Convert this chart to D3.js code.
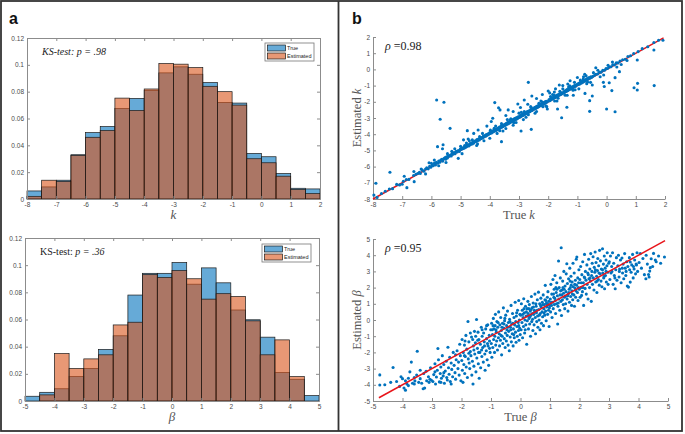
<!DOCTYPE html>
<html><head><meta charset="utf-8">
<script src="https://cdn.jsdelivr.net/npm/d3@7"></script>
<style>body{margin:0;background:#fff}svg{display:block}</style>
</head><body><svg id="c" width="685" height="434"></svg>
<script>
// ---------- DATA ----------
const kEdges = [-8,-7.5,-7,-6.5,-6,-5.5,-5,-4.5,-4,-3.5,-3,-2.5,-2,-1.5,-1,-0.5,0,0.5,1,1.5,2];
const kTrue = [0.006,0.009,0.014,0.033,0.0495,0.054,0.0675,0.075,0.081,0.094,0.0985,0.093,0.0868,0.072,0.0715,0.034,0.0315,0.019,0.008,0.0075];
const kEst  = [0.002,0.014,0.013,0.0325,0.046,0.051,0.0752,0.066,0.082,0.101,0.1005,0.098,0.084,0.080,0.070,0.030,0.027,0.017,0.007,0.004];
const bEdges = [-5,-4.5,-4,-3.5,-3,-2.5,-2,-1.5,-1,-0.5,0,0.5,1,1.5,2,2.5,3,3.5,4,4.5,5];
const bTrue = [0.0035,0.0064,0.009,0.018,0.024,0.038,0.048,0.078,0.094,0.094,0.102,0.086,0.098,0.087,0.067,0.0598,0.047,0.021,0.016,0.004];
const bEst  = [0,0.0045,0.035,0.024,0.031,0.034,0.056,0.058,0.093,0.091,0.096,0.090,0.075,0.079,0.077,0.059,0.034,0.045,0.018,0];
const kTicks = [-8,-7,-6,-5,-4,-3,-2,-1,0,1,2];
const bTicks = [-5,-4,-3,-2,-1,0,1,2,3,4,5];
const histYTicks = [0,0.02,0.04,0.06,0.08,0.1,0.12];
const kLine = [-8, 1.95];
const bLine = [-4.8, 4.9];

const kBand = [
[-7.97,-7.76],[-7.86,-7.9],[-7.71,-7.66],[-7.58,-7.52],
[-7.44,-7.38],[-7.33,-7.36],[-7.19,-7.1],[-7.09,-7.13],
[-6.96,-6.9],[-6.86,-6.8],[-6.77,-6.79],[-6.61,-6.55],[-6.53,-6.47],
[-6.47,-6.43],[-6.41,-6.35],[-6.38,-6.42],[-6.31,-6.22],[-6.26,-6.29],[-6.2,-6.15],[-6.16,-6.08],[-6.11,-6.14],[-6.06,-5.98],[-6.02,-6.04],
[-5.97,-5.9],[-5.94,-5.95],[-5.9,-5.8],[-5.86,-5.9],[-5.83,-5.74],[-5.79,-5.79],[-5.75,-5.66],[-5.71,-5.73],[-5.68,-5.6],[-5.64,-5.55],[-5.61,-5.66],[-5.57,-5.5],[-5.53,-5.44],[-5.51,-5.54],
[-5.48,-5.4],[-5.45,-5.47],[-5.42,-5.33],[-5.39,-5.36],[-5.35,-5.28],[-5.32,-5.35],[-5.29,-5.18],[-5.26,-5.24],[-5.22,-5.14],[-5.19,-5.2],[-5.15,-5.06],[-5.12,-5.1],[-5.08,-5.01],[-5.04,-5.07],[-5.01,-4.92],
[-4.98,-4.94],[-4.96,-4.86],[-4.93,-4.9],[-4.9,-4.82],[-4.88,-4.87],[-4.85,-4.76],[-4.82,-4.8],[-4.8,-4.69],[-4.77,-4.74],[-4.74,-4.65],[-4.71,-4.72],[-4.68,-4.58],[-4.66,-4.63],[-4.63,-4.54],[-4.6,-4.6],[-4.58,-4.49],[-4.55,-4.55],[-4.53,-4.44],[-4.51,-4.47],[-4.86,-4.7],
[-4.49,-4.4],[-4.47,-4.45],[-4.44,-4.33],[-4.41,-4.39],[-4.39,-4.3],[-4.36,-4.36],[-4.33,-4.22],[-4.31,-4.28],[-4.28,-4.2],[-4.25,-4.24],[-4.22,-4.12],[-4.2,-4.17],[-4.17,-4.08],[-4.14,-4.13],[-4.12,-4.02],[-4.09,-4.06],[-4.06,-3.97],[-4.04,-4.01],[-4.01,-3.92],[-4.35,-4.15],
[-3.99,-3.95],[-3.97,-3.87],[-3.94,-3.92],[-3.92,-3.82],[-3.89,-3.86],[-3.87,-3.76],[-3.84,-3.82],[-3.82,-3.72],[-3.79,-3.77],[-3.77,-3.66],[-3.74,-3.72],[-3.72,-3.62],[-3.69,-3.67],[-3.67,-3.56],[-3.64,-3.62],[-3.62,-3.52],[-3.59,-3.57],[-3.57,-3.46],[-3.54,-3.52],[-3.52,-3.42],[-3.85,-3.64],[-3.66,-3.78],
[-3.49,-3.46],[-3.47,-3.37],[-3.45,-3.43],[-3.43,-3.33],[-3.41,-3.39],[-3.39,-3.28],[-3.37,-3.35],[-3.35,-3.24],[-3.33,-3.31],[-3.31,-3.2],[-3.29,-3.27],[-3.27,-3.16],[-3.25,-3.22],[-3.23,-3.12],[-3.21,-3.19],[-3.19,-3.08],[-3.17,-3.15],[-3.15,-3.04],[-3.13,-3.1],[-3.11,-3.0],[-3.09,-3.07],[-3.07,-2.97],[-3.05,-3.03],[-3.03,-2.93],[-3.3,-3.12],[-3.18,-3.3],
[-2.99,-2.96],[-2.97,-2.86],[-2.95,-2.93],[-2.93,-2.83],[-2.91,-2.88],[-2.89,-2.78],[-2.87,-2.85],[-2.85,-2.74],[-2.83,-2.81],[-2.81,-2.7],[-2.79,-2.76],[-2.77,-2.66],[-2.75,-2.73],[-2.73,-2.62],[-2.71,-2.69],[-2.69,-2.58],[-2.67,-2.64],[-2.65,-2.55],[-2.63,-2.61],[-2.61,-2.5],[-2.59,-2.56],[-2.57,-2.46],[-2.55,-2.53],[-2.53,-2.43],[-2.82,-2.6],[-2.68,-2.8],
[-2.49,-2.46],[-2.47,-2.36],[-2.45,-2.43],[-2.43,-2.32],[-2.41,-2.39],[-2.39,-2.28],[-2.37,-2.35],[-2.35,-2.24],[-2.33,-2.31],[-2.31,-2.2],[-2.29,-2.26],[-2.27,-2.16],[-2.25,-2.23],[-2.23,-2.12],[-2.21,-2.19],[-2.19,-2.08],[-2.17,-2.14],[-2.15,-2.04],[-2.13,-2.11],[-2.11,-2.0],[-2.09,-2.06],[-2.07,-1.97],[-2.04,-2.02],[-2.32,-2.1],[-2.18,-2.3],
[-1.99,-1.95],[-1.97,-1.86],[-1.95,-1.93],[-1.92,-1.82],[-1.9,-1.88],[-1.88,-1.77],[-1.85,-1.83],[-1.83,-1.72],[-1.81,-1.78],[-1.78,-1.68],[-1.76,-1.74],[-1.74,-1.63],[-1.71,-1.69],[-1.69,-1.58],[-1.67,-1.64],[-1.64,-1.54],[-1.62,-1.6],[-1.6,-1.49],[-1.57,-1.55],[-1.55,-1.44],[-1.52,-1.5],[-1.8,-1.6],[-1.66,-1.78],
[-1.49,-1.45],[-1.46,-1.36],[-1.44,-1.42],[-1.41,-1.31],[-1.38,-1.36],[-1.36,-1.25],[-1.33,-1.31],[-1.3,-1.2],[-1.28,-1.25],[-1.25,-1.15],[-1.22,-1.2],[-1.2,-1.09],[-1.17,-1.15],[-1.14,-1.04],[-1.12,-1.09],[-1.09,-0.99],[-1.06,-1.04],[-1.03,-0.93],[-1.3,-1.08],[-1.15,-1.28],
[-0.99,-0.95],[-0.96,-0.86],[-0.93,-0.91],[-0.9,-0.8],[-0.87,-0.85],[-0.84,-0.74],[-0.81,-0.79],[-0.78,-0.68],[-0.75,-0.73],[-0.72,-0.62],[-0.69,-0.67],[-0.66,-0.56],[-0.63,-0.6],[-0.6,-0.5],[-0.57,-0.55],[-0.54,-0.45],[-0.51,-0.49],[-0.8,-0.6],[-0.65,-0.78],
[-0.47,-0.42],[-0.42,-0.38],[-0.37,-0.3],[-0.31,-0.28],[-0.25,-0.18],[-0.19,-0.17],[-0.13,-0.06],[-0.07,-0.05],[-0.02,0.05],
[0.03,0.06],[0.09,0.15],[0.15,0.16],[0.21,0.28],[0.27,0.28],[0.33,0.4],[0.39,0.4],[0.46,0.52],
[0.55,0.6],[0.64,0.63],[0.73,0.8],[0.82,0.84],[0.93,0.98],
[1.08,1.1],[1.22,1.28],[1.41,1.4],
[1.62,1.66],[1.78,1.8],[1.93,1.8]
];
const kNear = [
[-5.3,-5.05],[-5.0,-4.75],[-4.8,-4.55],[-4.6,-4.35],[-4.42,-4.6],[-4.2,-4.4],[-3.98,-3.75],[-3.75,-3.95],[-3.6,-3.35],[-3.45,-3.65],[-3.28,-3.05],[-3.1,-3.28],[-2.92,-2.65],[-2.76,-2.95],[-2.58,-2.35],[-2.4,-2.6],[-2.22,-2.0],[-2.08,-2.25],[-1.92,-1.68],[-1.78,-1.95],[-1.6,-1.35],[-1.42,-1.6],[-1.26,-1.02],[-1.08,-1.26],[-0.9,-0.65],[-0.68,-0.88],[-0.45,-0.2],[-0.22,-0.45],[0.05,0.25],[0.35,0.15],[0.7,0.55],[-6.0,-5.8],[-5.75,-5.95],[-6.35,-6.15],[-5.45,-5.2]
];
const kScatter = [
[-6.6,-6.3],[-6.2,-6.45],[-5.9,-5.6],[-5.5,-5.75],[-5.2,-4.9],[-4.95,-5.2],[-4.7,-4.4],[-4.45,-4.7],[-4.25,-3.95],[-4.0,-4.25],[-3.8,-3.5],[-3.55,-3.8],[-3.4,-3.1],[-3.2,-3.45],[-3.0,-2.7],[-2.85,-3.1],[-2.6,-2.3],[-2.45,-2.7],[-2.25,-1.95],[-2.05,-2.3],[-1.85,-1.55],[-1.7,-1.95],[-1.5,-1.2],[-1.35,-1.6],[-1.1,-0.8],[-0.95,-1.2],[-0.7,-0.4],[-0.55,-0.8],[-0.3,-0.05],[-0.1,-0.35],[0.2,0.45],[0.5,0.3],
[-3.65,-2.5],[-3.95,-3.22],[-4.1,-3.5],[-4.55,-3.95],[-4.9,-4.35],[-3.45,-2.85],[-3.2,-2.6],[-2.95,-2.35],[-2.7,-2.15],[-2.4,-1.8],[-2.2,-1.55],[-1.95,-1.45],[-1.75,-1.2],[-1.5,-1.0],[-1.25,-0.7],[-1.0,-0.5],[-0.75,-0.3],
[-7.9,-7.03],[-7.42,-6.35],[-6.93,-6.6],[-7.0,-7.09],[-6.84,-7.3],[-6.59,-6.93],[-6.08,-5.76],[-5.82,-1.89],[-5.57,-2.03],[-5.7,-3.08],[-5.36,-3.64],[-5.79,-4.77],[-5.6,-4.65],[-5.62,-4.9],[-5.08,-5.49],[-4.77,-3.78],[-4.74,-4.3],[-4.4,-3.74],[-3.83,-2.05],[-3.7,-2.37],[-3.37,-2.5],[-3.9,-3.02],[-3.6,-4.46],
[-2.68,-0.8],[-2.56,-1.64],[-2.82,-1.89],[-3.04,-2.14],[-2.58,-3.7],[-2.93,-3.8],[-1.54,-2.98],[-1.36,-2.34],[-1.68,-2.44],[-2.03,-2.44],[-1.62,-0.96],[-1.33,-0.9],[-1.14,-1.6],[-0.74,-1.48],[-0.58,-1.93],[-0.58,-2.59],[-0.49,-1.64],[-0.11,-0.8],[-0.08,-1.06],[0.09,-0.82],[0.18,-1.31],[0.29,-0.51],[0.0,-2.44],[0.29,-2.61],[0.44,-0.14],[0.94,-1.13],[1.05,-1.27],[1.06,-0.86],[1.63,-1.0],[1.62,1.2],[1.05,0.58],[-0.37,0.1],[-0.79,-0.45],[-0.49,-0.96],[-1.1,-1.02],[-2.0,-1.33],[-1.79,-1.4]
];
const bScatter = [
[-4.77,-3.39],[-4.77,-4.01],[-4.6,-4.0],[-4.32,-2.93],[-4.2,-3.8],[-4.05,-3.5],[-4.0,-3.62],[-4.1,-4.1],[-3.95,-4.2],[-3.9,-4.33],[-4.4,-3.85],
[-3.9,-3.75],[-3.85,-3.95],[-3.8,-3.6],[-3.75,-3.2],[-3.7,-2.6],[-3.66,-3.9],[-3.6,-3.55],[-3.58,-3.76],[-3.5,-1.93],[-3.52,-3.4],[-3.45,-3.85],[-3.4,-3.62],[-3.35,-3.9],[-3.3,-4.24],[-3.28,-3.3],[-3.25,-4.2],[-3.2,-3.16],[-3.18,-3.75],[-3.12,-3.5],[-3.1,-3.85],[-3.07,-3.66],[-3.05,-2.95],[-3.02,-3.72],[-3.4,-3.1],[-3.6,-3.95],[-3.8,-4.05],
[-2.97,-3.8],[-2.94,-3.37],[-2.9,-2.7],[-2.88,-3.95],[-2.85,-3.52],[-2.82,-3.1],[-2.8,-1.76],[-2.78,-2.45],[-2.75,-3.82],[-2.72,-3.3],[-2.7,-2.9],[-2.68,-3.6],[-2.65,-2.2],[-2.62,-3.45],[-2.6,-2.75],[-2.58,-3.9],[-2.55,-3.15],[-2.52,-2.55],[-2.5,-3.55],[-2.48,-3.7],[-2.46,-1.68],[-2.44,-2.95],[-2.42,-3.35],[-2.4,-2.3],[-2.38,-3.8],[-2.35,-2.65],[-2.33,-3.05],[-2.3,-3.5],[-2.28,-2.0],[-2.25,-2.8],[-2.22,-3.25],[-2.2,-3.65],[-2.18,-2.45],[-2.15,-1.9],[-2.12,-3.0],[-2.1,-2.6],[-2.08,-3.4],[-2.06,-1.5],[-2.04,-2.2],[-2.02,-3.75],[-2.6,-3.25],[-2.9,-3.2],[-2.7,-3.85],[-2.35,-3.95],[-2.2,-2.15],
[-1.99,-2.5],[-1.98,-1.2],[-1.97,-3.1],[-1.95,-3.85],[-1.94,-2.0],[-1.92,-2.75],[-1.9,-1.55],[-1.89,-3.3],[-1.87,-2.25],[-1.85,-0.95],[-1.84,-2.9],[-1.82,-1.8],[-1.8,-3.55],[-1.78,-0.09],[-1.77,-2.4],[-1.75,-1.35],[-1.74,-2.65],[-1.72,-3.0],[-1.7,-1.95],[-1.68,-2.2],[-1.66,-1.05],[-1.65,-3.4],[-1.63,-2.55],[-1.61,-3.95],[-1.6,-1.6],[-1.58,-2.85],[-1.56,-0.7],[-1.55,-2.1],[-1.53,-1.4],[-1.51,-3.2],[-1.49,0.03],[-1.48,-2.35],[-1.46,-1.75],[-1.44,-0.75],[-1.43,-2.7],[-1.41,-1.2],[-1.4,-3.6],[-1.38,-2.0],[-1.36,-1.5],[-1.35,-2.95],[-1.33,-0.45],[-1.31,-2.25],[-1.3,-1.0],[-1.28,-1.7],[-1.26,-2.6],[-1.25,-0.8],[-1.23,-1.35],[-1.21,-2.1],[-1.2,-3.1],[-1.18,-0.55],[-1.16,-1.9],[-1.15,-1.15],[-1.13,-2.45],[-1.11,-0.3],[-1.1,-1.6],[-1.08,-2.8],[-1.06,-0.95],[-1.05,-1.3],[-1.03,-2.0],[-1.01,-0.6],[-1.88,-1.3],[-1.7,-0.8],[-1.62,-1.2],[-1.52,-1.0],[-1.42,-2.0],[-1.32,-1.85],[-1.22,-1.6],[-1.12,-1.45],[-1.05,-1.75],[-1.15,-0.35],[-1.3,-0.6],[-1.45,-1.25],[-1.58,-1.85],[-1.75,-2.05],[-1.9,-2.2],
[-0.99,-1.45],[-0.98,-0.2],[-0.97,-2.3],[-0.95,-0.9],[-0.94,-1.7],[-0.92,0.1],[-0.91,-1.2],[-0.9,-0.55],[-0.88,-2.0],[-0.87,-1.0],[-0.85,0.35],[-0.84,-1.55],[-0.82,-0.75],[-0.81,-1.3],[-0.8,-0.1],[-0.78,-1.85],[-0.77,-0.45],[-0.75,-1.1],[-0.74,0.5],[-0.72,-0.85],[-0.71,-1.6],[-0.7,-0.3],[-0.68,-1.25],[-0.67,0.15],[-0.65,-0.65],[-0.64,-2.15],[-0.62,-1.0],[-0.61,-0.2],[-0.6,-1.45],[-0.58,0.75],[-0.57,-0.5],[-0.55,-1.15],[-0.54,-0.05],[-0.52,-1.7],[-0.51,-0.8],[-0.5,0.3],[-0.48,-1.3],[-0.47,-0.35],[-0.45,-0.95],[-0.44,0.55],[-0.42,-1.55],[-0.41,-0.15],[-0.4,-0.7],[-0.38,-1.9],[-0.37,0.05],[-0.35,-1.05],[-0.34,-0.45],[-0.32,0.9],[-0.31,-1.35],[-0.3,-0.25],[-0.28,-0.85],[-0.27,0.4],[-0.25,-1.6],[-0.24,-0.55],[-0.22,0.15],[-0.21,-1.1],[-0.2,-0.3],[-0.18,1.1],[-0.17,-0.75],[-0.15,-1.37],[-0.14,0.25],[-0.12,-0.4],[-0.11,-1.0],[-0.1,0.6],[-0.08,-0.15],[-0.07,-0.65],[-0.06,1.2],[-0.05,-1.25],[-0.04,0.0],[-0.03,-0.5],[-0.02,0.35],[-0.01,-0.9],[-0.96,-0.6],[-0.86,-0.35],[-0.76,-0.15],[-0.66,-0.95],[-0.56,-0.25],[-0.46,-0.6],[-0.36,-0.1],[-0.26,-0.2],[-0.16,-0.1],[-0.06,-0.35],[-0.53,0.1],[-0.33,-0.6],[-0.13,0.45],[-0.43,-0.45],[-0.63,-0.45],[-0.83,-0.6],[-0.93,-0.35],[-0.23,-0.9],
[0.01,0.3],[0.02,-0.6],[0.03,1.0],[0.05,-0.15],[0.06,0.6],[0.07,-1.1],[0.09,0.15],[0.1,-0.4],[0.11,1.31],[0.13,0.45],[0.14,-0.8],[0.15,0.0],[0.17,0.85],[0.18,-0.3],[0.19,0.25],[0.21,-1.5],[0.22,0.7],[0.23,-0.05],[0.25,1.15],[0.26,0.4],[0.27,-0.55],[0.29,0.1],[0.3,0.95],[0.31,-0.25],[0.33,0.55],[0.34,-1.0],[0.35,0.3],[0.37,1.45],[0.38,-0.1],[0.39,0.75],[0.41,0.05],[0.42,-0.65],[0.43,1.05],[0.45,0.35],[0.46,-0.3],[0.47,0.6],[0.49,1.6],[0.5,0.15],[0.51,-0.85],[0.53,0.85],[0.54,0.45],[0.55,-0.1],[0.57,1.25],[0.58,0.25],[0.59,-0.45],[0.61,1.72],[0.62,0.65],[0.63,0.0],[0.65,1.0],[0.66,-0.6],[0.67,0.4],[0.69,1.35],[0.7,0.8],[0.71,-0.2],[0.73,0.5],[0.74,1.1],[0.75,0.2],[0.77,1.55],[0.78,-0.35],[0.79,0.7],[0.81,0.95],[0.82,0.3],[0.83,1.25],[0.84,2.14],[0.85,0.55],[0.87,-0.05],[0.88,1.05],[0.89,0.8],[0.91,1.4],[0.92,0.35],[0.93,1.75],[0.95,0.6],[0.96,1.15],[0.97,-0.4],[0.99,0.9],[0.08,0.35],[0.2,0.5],[0.32,0.2],[0.44,0.8],[0.56,0.6],[0.68,0.9],[0.8,0.45],[0.9,1.0],[0.98,0.75],[0.16,-0.6],[0.28,0.7],[0.4,0.4],[0.52,1.0],[0.64,0.3],[0.76,0.95],[0.86,1.2],[0.94,0.95],[0.12,0.7],[0.24,0.25],[0.36,0.65],[0.48,0.55],
[1.01,1.3],[1.02,0.5],[1.03,2.2],[1.05,0.9],[1.06,1.6],[1.07,0.15],[1.09,1.1],[1.1,2.5],[1.11,0.7],[1.13,1.4],[1.14,1.9],[1.15,0.95],[1.17,2.75],[1.18,1.2],[1.19,0.4],[1.21,1.7],[1.22,1.0],[1.23,2.3],[1.25,1.5],[1.26,-0.25],[1.27,0.85],[1.29,3.64],[1.3,1.3],[1.31,2.0],[1.33,0.6],[1.34,1.55],[1.35,2.6],[1.37,1.15],[1.38,4.46],[1.39,0.28],[1.41,1.85],[1.42,1.25],[1.43,2.4],[1.45,0.95],[1.46,1.65],[1.47,3.0],[1.49,1.4],[1.5,0.7],[1.51,2.1],[1.53,1.0],[1.54,1.75],[1.55,2.85],[1.57,3.47],[1.58,1.3],[1.59,2.25],[1.61,0.55],[1.62,1.6],[1.63,2.55],[1.65,1.9],[1.66,1.1],[1.67,3.2],[1.69,2.0],[1.7,1.45],[1.71,2.7],[1.73,0.9],[1.74,1.8],[1.75,2.35],[1.77,1.25],[1.78,3.5],[1.79,2.05],[1.81,1.55],[1.82,2.9],[1.83,0.85],[1.85,1.95],[1.86,2.45],[1.87,1.4],[1.89,3.75],[1.9,2.15],[1.91,3.89],[1.93,1.7],[1.94,2.6],[1.95,1.2],[1.97,2.3],[1.98,3.1],[1.99,1.9],[1.12,1.6],[1.24,1.9],[1.36,1.8],[1.48,1.9],[1.6,1.5],[1.72,2.15],[1.84,2.2],[1.96,2.0],[1.04,1.1],[1.16,1.35],[1.28,1.05],[1.4,1.55],[1.52,1.45],[1.64,1.7],[1.76,1.6],[1.88,1.8],[1.2,2.0],[1.44,2.0],[1.68,2.4],
[2.01,2.5],[2.02,1.4],[2.04,3.3],[2.05,2.0],[2.07,1.52],[2.08,2.8],[2.1,1.75],[2.11,3.6],[2.13,2.3],[2.14,0.9],[2.16,2.65],[2.17,4.05],[2.19,1.95],[2.2,3.0],[2.22,2.45],[2.23,1.6],[2.25,3.4],[2.26,2.2],[2.28,2.9],[2.29,1.3],[2.31,3.75],[2.32,2.55],[2.34,2.0],[2.35,3.15],[2.37,2.4],[2.38,4.1],[2.4,1.15],[2.41,2.75],[2.43,3.5],[2.44,2.2],[2.46,3.9],[2.47,2.6],[2.49,1.85],[2.5,3.25],[2.52,2.95],[2.53,4.2],[2.55,2.35],[2.56,3.55],[2.58,2.7],[2.59,1.7],[2.61,3.05],[2.62,3.8],[2.64,2.5],[2.65,3.35],[2.67,2.15],[2.68,4.3],[2.7,2.85],[2.71,3.65],[2.73,2.4],[2.74,3.15],[2.76,2.05],[2.78,4.4],[2.79,2.9],[2.81,3.45],[2.82,2.6],[2.84,3.95],[2.85,1.93],[2.87,3.2],[2.88,2.75],[2.9,3.7],[2.91,2.35],[2.93,3.35],[2.94,4.15],[2.96,2.95],[2.97,2.2],[2.99,3.5],[2.06,2.3],[2.18,2.6],[2.3,2.8],[2.42,3.0],[2.54,3.1],[2.66,2.9],[2.78,3.1],[2.9,3.0],[2.12,2.0],[2.36,2.6],[2.6,2.4],[2.84,2.7],
[3.01,3.6],[3.03,2.5],[3.05,3.95],[3.07,2.9],[3.09,3.3],[3.12,4.15],[3.14,2.2],[3.16,3.5],[3.18,2.75],[3.21,1.93],[3.23,3.1],[3.25,3.85],[3.27,2.45],[3.3,3.35],[3.32,4.0],[3.34,2.65],[3.36,3.15],[3.39,3.7],[3.41,2.3],[3.44,3.83],[3.46,2.9],[3.48,3.45],[3.5,2.55],[3.53,4.1],[3.55,3.2],[3.57,2.75],[3.6,3.6],[3.62,2.1],[3.64,3.3],[3.66,2.03],[3.69,3.85],[3.72,3.58],[3.72,2.34],[3.75,2.95],[3.77,3.4],[3.8,4.05],[3.82,2.6],[3.85,3.15],[3.87,3.7],[3.9,2.85],[3.92,3.45],[3.95,4.15],[3.97,3.0],[3.1,3.0],[3.2,2.6],[3.35,3.0],[3.45,3.2],[3.58,3.0],[3.7,3.1],[3.83,3.3],[3.93,3.4],
[4.02,3.55],[4.06,4.1],[4.1,3.2],[4.15,3.8],[4.2,2.8],[4.26,4.0],[4.3,3.45],[4.36,2.65],[4.38,3.02],[4.43,3.78],[4.48,3.3],[4.51,4.11],[4.57,3.7],[4.6,3.6],[4.68,3.95],[4.75,3.5],[4.88,3.89],[4.25,2.55],[4.4,3.23],[4.34,2.81]
];

// ---------- DRAW ----------
const svg = d3.select("#c");
const SERIF = "'Liberation Serif','Times New Roman',serif";
const SANS = "'Liberation Sans',Arial,Helvetica,sans-serif";
const AX = "#8c8c8c", TXT = "#4a4a4a";
const BLUE = "#0072BD", ORANGE = "#D95319";

svg.append("rect").attr("x",1).attr("y",1).attr("width",681).attr("height",430)
  .attr("fill","none").attr("stroke","#333").attr("stroke-width",1.8);
svg.append("line").attr("x1",338.5).attr("x2",338.5).attr("y1",1).attr("y2",431)
  .attr("stroke","#333").attr("stroke-width",1.8);

svg.append("text").attr("x",9).attr("y",24).text("a")
  .attr("font-family",SANS).attr("font-weight","bold").attr("font-size",16).attr("fill","#111");
svg.append("text").attr("x",352).attr("y",24).text("b")
  .attr("font-family",SANS).attr("font-weight","bold").attr("font-size",16).attr("fill","#111");

function styleAxis(g, labels){
  g.select(".domain").attr("stroke",AX);
  g.selectAll(".tick line").attr("stroke",AX);
  g.selectAll(".tick text").attr("fill",TXT).attr("font-family",SANS).attr("font-size",6.5);
  if(!labels) g.selectAll(".tick text").remove();
}

function drawHist(o){
  const x = d3.scaleLinear().domain([o.edges[0], o.edges[o.edges.length-1]]).range([o.x0,o.x1]);
  const y = d3.scaleLinear().domain([0,0.12]).range([o.yB,o.yT]);
  const g = svg.append("g");
  const bins = o.edges.slice(0,-1).map((e,i)=>({a:e,b:o.edges[i+1],t:o.trueV[i],e:o.estV[i]}));
  g.append("rect").attr("x",o.x0).attr("y",o.yT).attr("width",o.x1-o.x0).attr("height",o.yB-o.yT).attr("fill","#fff");
  g.selectAll("rect.t").data(bins.filter(d=>d.t>0)).join("rect").attr("class","t")
    .attr("x",d=>x(d.a)).attr("width",d=>x(d.b)-x(d.a)).attr("y",d=>y(d.t)).attr("height",d=>y(0)-y(d.t))
    .attr("fill",BLUE).attr("fill-opacity",0.6).attr("stroke","#1a1a1a").attr("stroke-width",0.7);
  g.selectAll("rect.e").data(bins.filter(d=>d.e>0)).join("rect").attr("class","e")
    .attr("x",d=>x(d.a)).attr("width",d=>x(d.b)-x(d.a)).attr("y",d=>y(d.e)).attr("height",d=>y(0)-y(d.e))
    .attr("fill",ORANGE).attr("fill-opacity",0.6).attr("stroke","#1a1a1a").attr("stroke-width",0.7);
  const fmt = d=>String(d);
  styleAxis(g.append("g").attr("transform",`translate(0,${o.yB})`)
    .call(d3.axisBottom(x).tickValues(o.xTicks).tickSize(-3).tickSizeOuter(0).tickPadding(3).tickFormat(fmt)), true);
  styleAxis(g.append("g").attr("transform",`translate(0,${o.yT})`)
    .call(d3.axisTop(x).tickValues(o.xTicks).tickSize(-3).tickSizeOuter(0)), false);
  styleAxis(g.append("g").attr("transform",`translate(${o.x0},0)`)
    .call(d3.axisLeft(y).tickValues(histYTicks).tickSize(-3).tickSizeOuter(0).tickPadding(3).tickFormat(fmt)), true);
  styleAxis(g.append("g").attr("transform",`translate(${o.x1},0)`)
    .call(d3.axisRight(y).tickValues(histYTicks).tickSize(-3).tickSizeOuter(0)), false);
  const t = g.append("text").attr("x",o.x0+15).attr("y",o.yT+17).attr("font-family",SERIF).attr("font-size",10).attr("fill","#222");
  t.append("tspan").text("KS-test: ").attr("font-style",o.ksItalic?"italic":"normal");
  t.append("tspan").text("p = "+o.p).attr("font-style","italic");
  const L = g.append("g").attr("transform",`translate(${o.lx},${o.ly})`);
  L.append("rect").attr("width",49).attr("height",18).attr("fill","#fff").attr("stroke","#777").attr("stroke-width",0.8);
  [[BLUE,"True",2],[ORANGE,"Estimated",10]].forEach(([c,lab,dy])=>{
    L.append("rect").attr("x",2.5).attr("y",dy).attr("width",18).attr("height",6)
      .attr("fill",c).attr("fill-opacity",0.6).attr("stroke","#1a1a1a").attr("stroke-width",0.7);
    L.append("text").attr("x",22).attr("y",dy+5).text(lab).attr("font-family",SANS).attr("font-size",5.5).attr("fill","#222");
  });
  g.append("text").attr("x",(o.x0+o.x1)/2).attr("y",o.yB+20).attr("text-anchor","middle")
    .attr("font-family",SERIF).attr("font-style","italic").attr("font-size",13).attr("fill","#555").text(o.xlab);
}

drawHist({edges:kEdges,trueV:kTrue,estV:kEst,x0:27,x1:320,yT:38,yB:199,xTicks:kTicks,p:".98",ksItalic:true,lx:265,ly:43,xlab:"k"});
drawHist({edges:bEdges,trueV:bTrue,estV:bEst,x0:25,x1:319,yT:238,yB:401,xTicks:bTicks,p:".36",ksItalic:false,lx:262,ly:244,xlab:"β"});

function drawScatter(o){
  const x = d3.scaleLinear().domain(o.dom).range([o.x0,o.x1]);
  const y = d3.scaleLinear().domain(o.dom).range([o.yB,o.yT]);
  const g = svg.append("g");
  styleAxis(g.append("g").attr("transform",`translate(0,${o.yB})`)
    .call(d3.axisBottom(x).tickValues(o.ticks).tickSize(-3).tickSizeOuter(0).tickPadding(3).tickFormat(d=>String(d))), true);
  styleAxis(g.append("g").attr("transform",`translate(${o.x0},0)`)
    .call(d3.axisLeft(y).tickValues(o.ticks).tickSize(-3).tickSizeOuter(0).tickPadding(3).tickFormat(d=>String(d))), true);
  const drawLine = ()=>g.append("line").attr("x1",x(o.line[0])).attr("y1",y(o.line[0])).attr("x2",x(o.line[1])).attr("y2",y(o.line[1]))
      .attr("stroke","#e8141a").attr("stroke-width",1.5);
  if(!o.lineOnTop) drawLine();
  g.selectAll("circle").data(o.pts).join("circle").attr("cx",d=>x(d[0])).attr("cy",d=>y(d[1])).attr("r",1.55).attr("fill",BLUE);
  if(o.lineOnTop) drawLine();
  const r = g.append("text").attr("x",o.x0+12).attr("y",o.yT+13).attr("font-family",SERIF).attr("font-size",12).attr("fill","#222");
  r.append("tspan").text("ρ").attr("font-style","italic");
  r.append("tspan").text(" =" + o.rho);
  const xl = g.append("text").attr("x",(o.x0+o.x1)/2).attr("y",o.yB+20).attr("text-anchor","middle")
    .attr("font-family",SERIF).attr("font-size",12.5).attr("fill","#555");
  xl.append("tspan").text("True ");
  xl.append("tspan").text(o.sym).attr("font-style","italic");
  const yl = g.append("text").attr("transform",`translate(${o.x0-12},${(o.yT+o.yB)/2}) rotate(-90)`).attr("text-anchor","middle")
    .attr("font-family",SERIF).attr("font-size",12.5).attr("fill","#555");
  yl.append("tspan").text("Estimated ");
  yl.append("tspan").text(o.sym).attr("font-style","italic");
}

drawScatter({dom:[-8,2],ticks:kTicks,x0:373,x1:665,yT:37,yB:199,pts:kBand.concat(kNear,kScatter),line:kLine,lineOnTop:false,rho:"0.98",sym:"k"});
drawScatter({dom:[-5,5],ticks:bTicks,x0:373,x1:668,yT:239,yB:401,pts:bScatter,line:bLine,lineOnTop:true,rho:"0.95",sym:"β"});
</script></body></html>
